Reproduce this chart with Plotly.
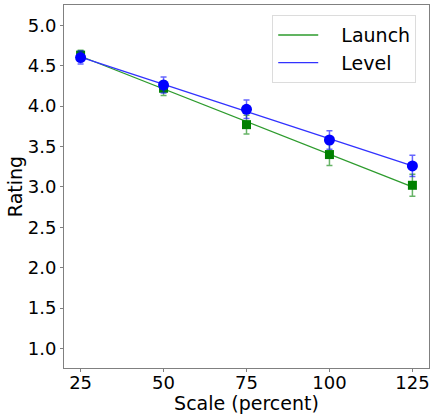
import numpy as np
import plotly.graph_objects as go

scale = [25, 50, 75, 100, 125]
launch = [4.63, 4.22, 3.77, 3.40, 3.02]
launch_err = [0.06, 0.09, 0.115, 0.135, 0.135]
level = [4.60, 4.26, 3.96, 3.58, 3.26]
level_err = [0.08, 0.10, 0.115, 0.115, 0.13]
y_ticks = [1.0, 1.5, 2.0, 2.5, 3.0, 3.5, 4.0, 4.5, 5.0]

fig = go.Figure()

def fit(xs, ys):
    m, b = np.polyfit(xs, ys, 1)
    x = np.array([xs[0], xs[-1]], dtype=float)
    return x, m * x + b

for name, ys, errs, lcol, mcol, ecol, sym, size in [
    ("Launch", launch, launch_err, "rgb(45,155,45)", "green", "rgba(0,128,0,0.6)", "square", 9),
    ("Level", level, level_err, "rgb(50,50,255)", "blue", "rgba(0,0,255,0.6)", "circle", 11),
]:
    fx, fy = fit(scale, ys)
    fig.add_trace(go.Scatter(x=fx, y=fy, mode="lines", name="\u00a0\u00a0\u00a0" + name,
                             line=dict(color=lcol, width=1.3)))
    fig.add_trace(go.Scatter(x=scale, y=ys, mode="markers", showlegend=False,
                             marker=dict(color=mcol, symbol=sym, size=size, line=dict(width=0)),
                             error_y=dict(type="data", array=errs, color=ecol, thickness=1.5, width=3)))

fig.update_layout(
    width=430, height=414,
    margin=dict(l=64, r=1, t=5, b=46),
    paper_bgcolor="white", plot_bgcolor="white",
    font=dict(family="DejaVu Sans", size=18, color="black"),
    legend=dict(x=0.965, y=0.972, xanchor="right", yanchor="top",
                bordercolor="rgb(220,220,220)", borderwidth=1,
                font=dict(size=19), bgcolor="rgba(255,255,255,0.8)",
                tracegroupgap=0, itemwidth=40),
)
fig.update_xaxes(range=[20, 130], tickvals=scale, ticks="outside", ticklen=3,
                 tickcolor="gray", showline=True, linecolor="gray", mirror=True,
                 showgrid=False, zeroline=False, ticklabelstandoff=-5,
                 title=dict(text="Scale (percent)", font=dict(size=19), standoff=3))
fig.update_yaxes(range=[0.76, 5.25], tickvals=y_ticks, tickformat=".1f", ticks="outside",
                 ticklen=3, tickcolor="gray", showline=True, linecolor="gray", mirror=True,
                 showgrid=False, zeroline=False,
                 title=dict(text="Rating", font=dict(size=19), standoff=0))

fig.write_html("out.html", config={"displayModeBar": False},
               post_script="document.body.style.margin='0';")
